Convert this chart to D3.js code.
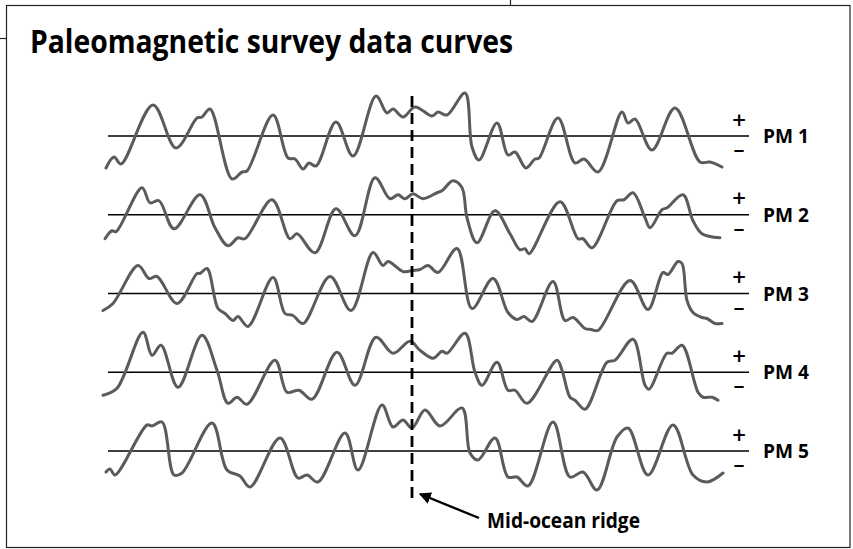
<!DOCTYPE html>
<html><head><meta charset="utf-8">
<script src="https://cdn.jsdelivr.net/npm/d3@7"></script>
<style>body{margin:0;background:#fff}svg{display:block}</style>
</head><body>
<svg id="chart" width="853" height="549"></svg>
<script>
const title = "Paleomagnetic survey data curves";
const seriesNames = ["PM 1", "PM 2", "PM 3", "PM 4", "PM 5"];
const ridgeLabel = "Mid-ocean ridge";
const polarityLabels = ["+", "\u2013"];

// [distance from ridge (km), magnetic anomaly (nT)]
const pm1 = [[-306,-32],[-298,-21],[-291,-28],[-259,31],[-236,-12],[-215,18],[-210,19],[-202,27],[-180,-43],[-170,-36],[-165,-35],[-139,21],[-124,-22],[-117,-23],[-109,-33],[-103,-27],[-96,-30],[-76,14],[-59,-20],[-36,40],[-25,23],[-19,27],[-9,19],[3,29],[20,20],[26,24],[35,21],[53,43],[60,-11],[67,-24],[85,13],[96,-19],[103,-16],[114,-32],[123,-23],[127,-22],[146,18],[163,-27],[172,-23],[186,-36],[210,24],[216,13],[223,17],[240,-14],[263,28],[288,-26],[298,-26],[310,-31]];
const pm2 = [[-307,-24],[-300,-16],[-296,-17],[-270,27],[-262,12],[-253,14],[-238,-14],[-212,20],[-197,-13],[-184,-31],[-174,-23],[-167,-24],[-140,15],[-122,-24],[-115,-19],[-97,-38],[-76,6],[-57,-21],[-37,37],[-22,16],[-14,20],[-7,16],[1,21],[11,16],[25,22],[30,24],[41,34],[50,27],[55,-3],[65,-28],[83,4],[98,-19],[108,-35],[113,-34],[117,-39],[148,13],[166,-24],[171,-24],[180,-33],[205,14],[212,15],[221,22],[233,-3],[238,-13],[250,5],[255,7],[271,20],[281,-6],[290,-19],[308,-23]];
const pm3 = [[-309,-17],[-299,-10],[-274,28],[-263,15],[-255,17],[-235,-10],[-215,20],[-212,20],[-205,25],[-194,-15],[-187,-20],[-179,-27],[-174,-23],[-164,-33],[-139,16],[-127,-20],[-119,-22],[-109,-30],[-82,17],[-61,-17],[-39,41],[-29,28],[-24,32],[-9,22],[1,23],[8,24],[16,28],[26,21],[45,45],[60,-15],[81,15],[96,-19],[105,-26],[112,-23],[120,-28],[141,12],[153,-27],[161,-24],[173,-35],[179,-36],[186,-37],[218,13],[236,-16],[251,21],[256,19],[266,32],[270,30],[275,-7],[281,-19],[290,-24],[295,-25],[303,-30],[310,-30]];
const pm4 = [[-309,-23],[-295,-16],[-269,40],[-260,17],[-251,27],[-234,-15],[-210,37],[-195,2],[-184,-31],[-175,-25],[-165,-32],[-137,12],[-125,-20],[-113,-18],[-100,-27],[-75,20],[-57,-13],[-36,35],[-19,19],[-2,31],[8,22],[21,14],[30,21],[35,19],[53,39],[63,0],[70,-13],[85,10],[96,-18],[103,-18],[115,-31],[145,12],[150,2],[158,-25],[163,-28],[173,-37],[195,10],[203,12],[221,33],[233,-13],[237,-17],[255,19],[260,19],[270,27],[286,-20],[291,-25],[300,-25],[306,-28]];
const pm5 = [[-306,-21],[-302,-18],[-297,-24],[-265,26],[-260,25],[-250,29],[-238,-24],[-230,-22],[-200,28],[-185,-19],[-172,-25],[-162,-36],[-132,13],[-114,-27],[-105,-24],[-94,-31],[-67,18],[-54,-19],[-30,46],[-19,24],[-9,31],[0,23],[13,41],[28,25],[50,43],[58,-2],[66,-9],[83,13],[96,-26],[105,-26],[116,-35],[141,29],[158,-26],[171,-21],[185,-39],[205,14],[216,23],[236,-24],[261,26],[281,-24],[295,-31],[311,-22]];
const seriesValues = [pm1, pm2, pm3, pm4, pm5];

const svg = d3.select("#chart");

// frame fragments
svg.append("rect").attr("x", 6.5).attr("y", 5.5).attr("width", 843.5).attr("height", 542)
  .attr("fill", "#fff").attr("stroke", "#222").attr("stroke-width", 1.2);
svg.append("line").attr("x1", 0).attr("x2", 6.5).attr("y1", 38.5).attr("y2", 38.5).attr("stroke", "#222").attr("stroke-width", 1.2);
svg.append("line").attr("x1", 510.5).attr("x2", 510.5).attr("y1", 0).attr("y2", 5.5).attr("stroke", "#222").attr("stroke-width", 1.2);

const labFont = "'Open Sans', 'Noto Sans', sans-serif";
svg.append("text").attr("x", 30).attr("y", 53)
  .attr("font-family", labFont).attr("font-weight", 700)
  .attr("font-size", 33).attr("textLength", 483).attr("lengthAdjust", "spacingAndGlyphs")
  .attr("fill", "#000").text(title);

const x = d3.scaleLinear().domain([-306, 310]).range([106, 722]);
const row = d3.scalePoint().domain(seriesNames).range([136, 451]);
const y = d3.scaleLinear().domain([-50, 50]).range([50, -50]);
const line = d3.line().x(d => x(d[0])).y(d => y(d[1])).curve(d3.curveCatmullRom.alpha(0.5));

const rows = svg.selectAll("g.row").data(seriesNames.map((n, i) => ({name: n, values: seriesValues[i]})))
  .join("g").attr("class", "row").attr("transform", d => `translate(0,${row(d.name)})`);

rows.append("line").attr("x1", x(-304)).attr("x2", x(337)).attr("y1", y(0)).attr("y2", y(0))
  .attr("stroke", "#000").attr("stroke-width", 1.6);

rows.append("path").attr("d", d => line(d.values)).attr("fill", "none")
  .attr("stroke", "#5b5b5b").attr("stroke-width", 3).attr("stroke-linejoin", "round").attr("stroke-linecap", "round");

rows.append("text").attr("x", x(327)).attr("y", y(17)).attr("text-anchor", "middle").attr("dominant-baseline", "central")
  .attr("font-family", labFont).attr("font-weight", 600).attr("font-size", 24).text(polarityLabels[0]);
rows.append("text").attr("x", x(327)).attr("y", y(-12)).attr("text-anchor", "middle").attr("dominant-baseline", "central")
  .attr("font-family", labFont).attr("font-weight", 600).attr("font-size", 22).text(polarityLabels[1]);
rows.append("text").attr("x", 763).attr("y", y(-7)).attr("font-family", labFont).attr("font-weight", 700)
  .attr("font-size", 20).attr("textLength", 46).attr("lengthAdjust", "spacingAndGlyphs").text(d => d.name);

// ridge
svg.append("line").attr("x1", x(0)).attr("x2", x(0)).attr("y1", 96).attr("y2", 499)
  .attr("stroke", "#000").attr("stroke-width", 2.8).attr("stroke-dasharray", "11,6");

svg.append("defs").append("marker").attr("id", "ah").attr("viewBox", "0 0 10 10").attr("refX", 9).attr("refY", 5)
  .attr("markerWidth", 12).attr("markerHeight", 12).attr("markerUnits", "userSpaceOnUse").attr("orient", "auto")
  .append("path").attr("d", "M0,0 L10,5 L0,10 Z").attr("fill", "#000");
svg.append("line").attr("x1", 479).attr("y1", 518).attr("x2", 420).attr("y2", 494)
  .attr("stroke", "#000").attr("stroke-width", 2.4).attr("marker-end", "url(#ah)");

svg.append("text").attr("x", 487).attr("y", 528).attr("font-family", labFont).attr("font-weight", 700)
  .attr("font-size", 21).attr("textLength", 153).attr("lengthAdjust", "spacingAndGlyphs").text(ridgeLabel);
</script>
</body></html>
